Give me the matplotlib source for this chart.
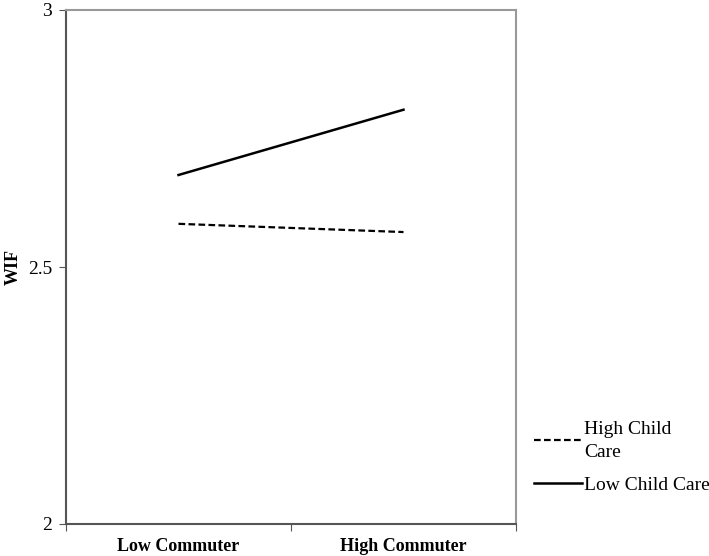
import matplotlib.pyplot as plt

# data
categories = ["Low Commuter", "High Commuter"]
high_child_care = [2.584, 2.568]
low_child_care = [2.679, 2.806]
yticks = [2, 2.5, 3]
ytick_labels = ["2", "2.5", "3"]

plt.rcParams['font.family'] = ['Liberation Serif', 'DejaVu Serif']

fig = plt.figure(figsize=(7.09, 5.56), dpi=100)
ax = fig.add_axes([66 / 709, 1 - 524 / 556, 450 / 709, 514 / 556])

x = range(len(categories))
ax.plot(x, high_child_care, color='black', linestyle=(0, (3, 1.5)), linewidth=1.6,
        label="High Child\nCare")
ax.plot(x, low_child_care, color='black', linestyle='-', linewidth=1.8,
        label="Low Child Care")

ax.set_xlim(-0.5, 1.5)
ax.set_ylim(2, 3)

# category ticks between categories, labels centered
ax.set_xticks([-0.5, 0.5, 1.5])
ax.set_xticklabels([])
ax.set_xticks(list(x), minor=True)
ax.set_xticklabels(categories, minor=True, fontsize=13, fontweight='bold')
ax.tick_params(axis='x', which='minor', length=0, pad=10)
ax.tick_params(axis='x', which='major', length=5, direction='out', color='#555555')

ax.set_yticks(yticks)
ax.set_yticklabels(ytick_labels, fontsize=14)
ax.tick_params(axis='y', length=5, direction='out', color='#555555', pad=5)

ax.set_ylabel("WIF", fontsize=13, fontweight='bold')
ax.yaxis.set_label_coords(-0.098, 0.5)

for side in ['left', 'bottom']:
    ax.spines[side].set_color('#555555')
    ax.spines[side].set_linewidth(1.5)
for side in ['top', 'right']:
    ax.spines[side].set_color('#999999')
    ax.spines[side].set_linewidth(1.5)

leg = ax.legend(loc='upper left', bbox_to_anchor=(1.0, 0.235), frameon=False,
                fontsize=14, handlelength=2.5, handletextpad=0.1, labelspacing=0.8)
for t in leg.get_texts():
    t.set_linespacing(1.45)

fig.savefig("out.png", dpi=100)
